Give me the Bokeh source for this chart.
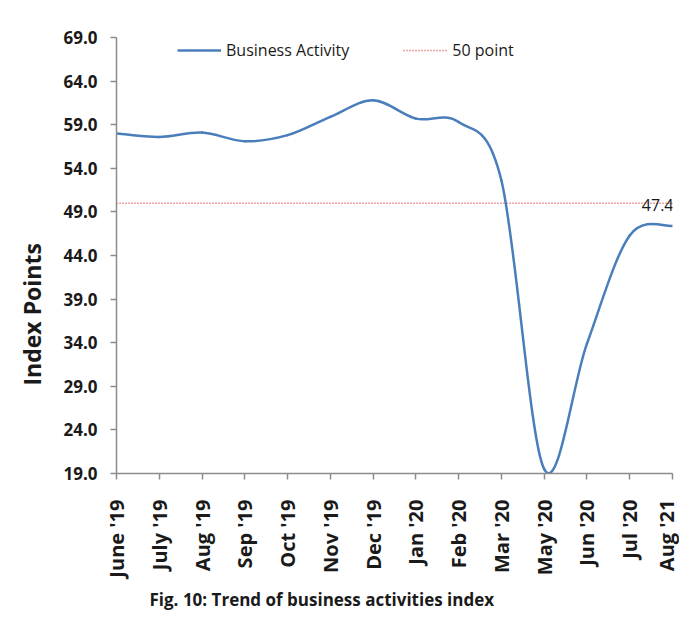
import math
from bokeh.plotting import figure
from bokeh.models import Range1d, FixedTicker, Label, PrintfTickFormatter, Title
from bokeh.embed import file_html
from bokeh.resources import INLINE

months = ["June '19", "July '19", "Aug '19", "Sep '19", "Oct '19", "Nov '19", "Dec '19",
          "Jan '20", "Feb '20", "Mar '20", "May '20", "Jun '20", "Jul '20", "Aug '21"]
activity = [58.0, 57.6, 58.1, 57.1, 57.8, 59.9, 61.8, 59.7, 59.3, 52.6, 19.5, 33.9, 46.3, 47.4]
threshold = 50.0
y_ticks = [19.0, 24.0, 29.0, 34.0, 39.0, 44.0, 49.0, 54.0, 59.0, 64.0, 69.0]

FONT = "Open Sans"
BLUE = "#4a7ebb"
RED = "#e04848"
AXIS = "#8c8c8c"
TXT = "#1a1a1a"

idx = list(range(len(months)))

p = figure(width=679, height=615, output_backend="svg", toolbar_location=None,
           x_range=Range1d(0, len(months) - 1), y_range=Range1d(y_ticks[0], y_ticks[-1]),
           min_border_left=115, min_border_right=7, min_border_top=37, min_border_bottom=142)
p.outline_line_color = None
p.grid.visible = False
p.background_fill_color = "white"
p.border_fill_color = "white"

# smooth (Excel-like) curve through the points using cubic Bezier segments
n = len(activity)
x0, y0, x1, y1, cx0, cy0, cx1, cy1 = [], [], [], [], [], [], [], []
for i in range(n - 1):
    vp = activity[i - 1] if i > 0 else activity[i]
    vn = activity[i + 2] if i + 2 < n else activity[i + 1]
    x0.append(idx[i]); y0.append(activity[i])
    x1.append(idx[i + 1]); y1.append(activity[i + 1])
    dxa = (idx[i + 1] - (idx[i - 1] if i > 0 else idx[i])) / 6
    dxb = ((idx[i + 2] if i + 2 < n else idx[i + 1]) - idx[i]) / 6
    cx0.append(idx[i] + dxa); cy0.append(activity[i] + (activity[i + 1] - vp) / 6)
    cx1.append(idx[i + 1] - dxb); cy1.append(activity[i + 1] - (vn - activity[i]) / 6)

# legend proxy for the smoothed series (single point -> draws nothing in the plot)
p.line(x=[idx[-1]], y=[activity[-1]], line_color=BLUE, line_width=2.5,
       legend_label="Business Activity")
p.line(x=idx, y=[threshold] * len(idx), line_color=RED, line_width=1.5,
       line_dash="1 2", legend_label="50 point")
p.bezier(x0=x0, y0=y0, x1=x1, y1=y1, cx0=cx0, cy0=cy0, cx1=cx1, cy1=cy1,
         line_color=BLUE, line_width=2.5, line_cap="round")

# axes
xa = p.xaxis[0]
xa.ticker = FixedTicker(ticks=idx)
xa.major_label_overrides = {i: m for i, m in zip(idx, months)}
xa.major_label_orientation = math.pi / 2
ya = p.yaxis[0]
ya.ticker = FixedTicker(ticks=y_ticks)
ya.formatter = PrintfTickFormatter(format="%.1f")
for ax in (xa, ya):
    ax.axis_line_color = AXIS
    ax.axis_line_width = 1.5
    ax.major_tick_line_color = AXIS
    ax.major_tick_line_width = 1.5
    ax.major_tick_in = 0
    ax.major_tick_out = 6
    ax.minor_tick_line_color = None
    ax.major_label_text_font = FONT
    ax.major_label_text_font_style = "bold"
    ax.major_label_text_color = TXT
xa.major_label_text_font_size = "20px"
ya.major_label_text_font_size = "17px"
xa.major_label_standoff = 20
ya.major_label_standoff = 13

# y axis title (left panel, shifted down)
p.add_layout(Title(text="Index Points", align="left", offset=88, standoff=26,
                   text_font=FONT, text_font_style="bold", text_font_size="23px",
                   text_color=TXT), "left")

# caption (below the x axis)
p.add_layout(Title(text="Fig. 10: Trend of business activities index", align="left",
                   offset=33, standoff=10, text_font=FONT, text_font_style="bold",
                   text_font_size="17px", text_color=TXT), "below")

# legend
lg = p.legend[0]
lg.orientation = "horizontal"
lg.location = (61, 412)
lg.border_line_color = None
lg.background_fill_alpha = 0
lg.padding = 0
lg.margin = 0
lg.glyph_width = 44
lg.label_standoff = 5
lg.spacing = 54
lg.label_text_font = FONT
lg.label_text_font_size = "16px"
lg.label_text_color = TXT

# data label for last point
p.add_layout(Label(x=idx[-1], y=activity[-1], text=f"{activity[-1]:.1f}", x_offset=1, y_offset=21,
                   text_align="right", text_baseline="middle", text_font=FONT,
                   text_font_size="16px", text_color=TXT))

open("out.html", "w").write(file_html(p, INLINE))
